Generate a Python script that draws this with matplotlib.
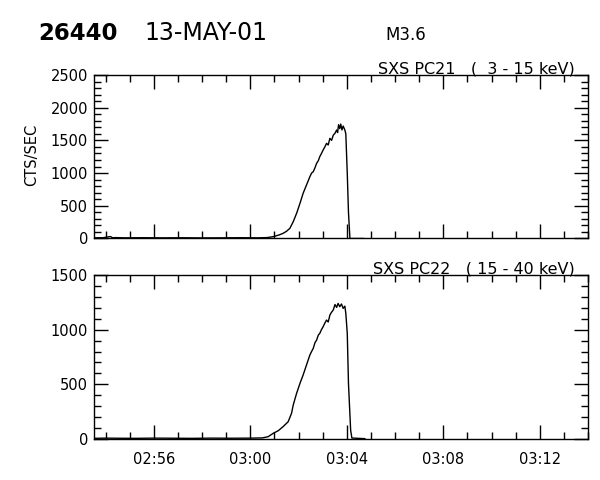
import matplotlib
matplotlib.use('Agg')
import matplotlib.pyplot as plt
from matplotlib.ticker import MultipleLocator, FuncFormatter


# time in minutes after 00:00 UT, values in counts/s
t_pc21 = [173.5, 173.9, 174.2, 174.3, 174.4, 174.8, 175.5, 176.3, 177.2, 178.0,
          178.8, 179.6, 180.3, 180.7, 180.95, 181.2, 181.36, 181.5, 181.64,
          181.78, 181.92, 182.06, 182.19, 182.33, 182.47, 182.54, 182.61,
          182.68, 182.75, 182.82, 182.88, 182.95, 183.02, 183.09, 183.16,
          183.23, 183.30, 183.37, 183.44, 183.51, 183.58, 183.62, 183.66,
          183.71, 183.75, 183.80, 183.85, 183.89, 183.92, 183.96, 184.02,
          184.07, 184.13, 184.40, 184.70]
v_pc21 = [10, 12, 30, 10, 14, 10, 12, 10, 11, 9,
          10, 12, 10, 14, 28, 55, 79, 110, 155,
          257, 385, 538, 691, 818, 945, 1000, 1021,
          1080, 1150, 1190, 1251, 1300, 1353, 1400, 1455,
          1430, 1532, 1500, 1580, 1608, 1659, 1620, 1740,
          1680, 1750, 1660, 1720, 1685, 1659, 1600, 1000,
          400, 0, 0, 0]

t_pc22 = [173.5, 174.0, 174.5, 175.2, 176.0, 176.8, 177.6, 178.4, 179.2,
          180.0, 180.5, 180.74, 180.95, 181.16, 181.36, 181.57, 181.71,
          181.78, 181.92, 182.06, 182.19, 182.33, 182.47, 182.54, 182.61,
          182.68, 182.75, 182.82, 182.88, 182.95, 183.02, 183.09, 183.16,
          183.23, 183.30, 183.37, 183.44, 183.51, 183.58, 183.64, 183.71,
          183.78, 183.85, 183.92, 183.96, 184.02, 184.07, 184.16, 184.21,
          184.75]
v_pc22 = [6, 8, 7, 6, 8, 7, 6, 8, 7,
          8, 10, 21, 52, 76, 113, 158, 235,
          311, 418, 509, 585, 677, 768, 800, 829,
          880, 905, 950, 966, 1000, 1027, 1060, 1088,
          1070, 1134, 1160, 1180, 1230, 1204, 1240, 1210,
          1235, 1195, 1215, 1150, 966, 509, 82, 9,
          3]

title_id = '26440'
title_date = '13-MAY-01'
title_class = 'M3.6'
label_pc21 = 'SXS PC21   (  3 - 15 keV)'
label_pc22 = 'SXS PC22   ( 15 - 40 keV)'


def hhmm(x, pos):
    m = int(round(x))
    return f'{m // 60:02d}:{m % 60:02d}'


def style_axis(ax, ymax):
    ax.set_xlim(173.5, 194.0)
    ax.set_ylim(0, ymax)
    ax.xaxis.set_major_locator(MultipleLocator(4))
    ax.xaxis.set_minor_locator(MultipleLocator(1))
    ax.yaxis.set_major_locator(MultipleLocator(500))
    ax.yaxis.set_minor_locator(MultipleLocator(100))
    ax.tick_params(which='both', direction='in', top=True, right=True,
                   width=1, labelsize=10.5, colors='k')
    ax.tick_params(which='major', length=10)
    ax.tick_params(which='minor', length=5)
    ax.tick_params(axis='y', pad=4)
    ax.tick_params(axis='x', pad=9)
    for s in ax.spines.values():
        s.set_linewidth(1)


def main():
    fig = plt.figure(figsize=(6, 4.8), dpi=100)
    W, H = 600, 480

    ax1 = fig.add_axes([93.5 / W, 1 - 238.5 / H, (588 - 93.5) / W, (238.5 - 75) / H])
    ax2 = fig.add_axes([93.5 / W, 1 - 439 / H, (588 - 93.5) / W, (439 - 275) / H])

    ax1.plot(t_pc21, v_pc21, color='k', lw=1.0)
    ax2.plot(t_pc22, v_pc22, color='k', lw=1.0)

    style_axis(ax1, 2500)
    style_axis(ax2, 1500)
    ax1.tick_params(axis='x', labelbottom=False)
    ax2.xaxis.set_major_formatter(FuncFormatter(hhmm))

    fig.text(575 / W, 1 - 73.5 / H, label_pc21, ha='right', va='baseline',
             fontsize=11.5)
    fig.text(575 / W, 1 - 273.5 / H, label_pc22, ha='right', va='baseline',
             fontsize=11.5)

    fig.text(32 / W, 1 - 155 / H, 'CTS/SEC', rotation=90, ha='center',
             va='center', fontsize=10.5)

    fig.text(38 / W, 1 - 40 / H, title_id, fontsize=16.5, fontweight='bold',
             ha='left', va='baseline')
    fig.text(144 / W, 1 - 40 / H, title_date, fontsize=17,
             ha='left', va='baseline')
    fig.text(385 / W, 1 - 40 / H, title_class, fontsize=12,
             ha='left', va='baseline')

    fig.savefig('out.png', dpi=100, facecolor='white')


if __name__ == '__main__':
    main()
